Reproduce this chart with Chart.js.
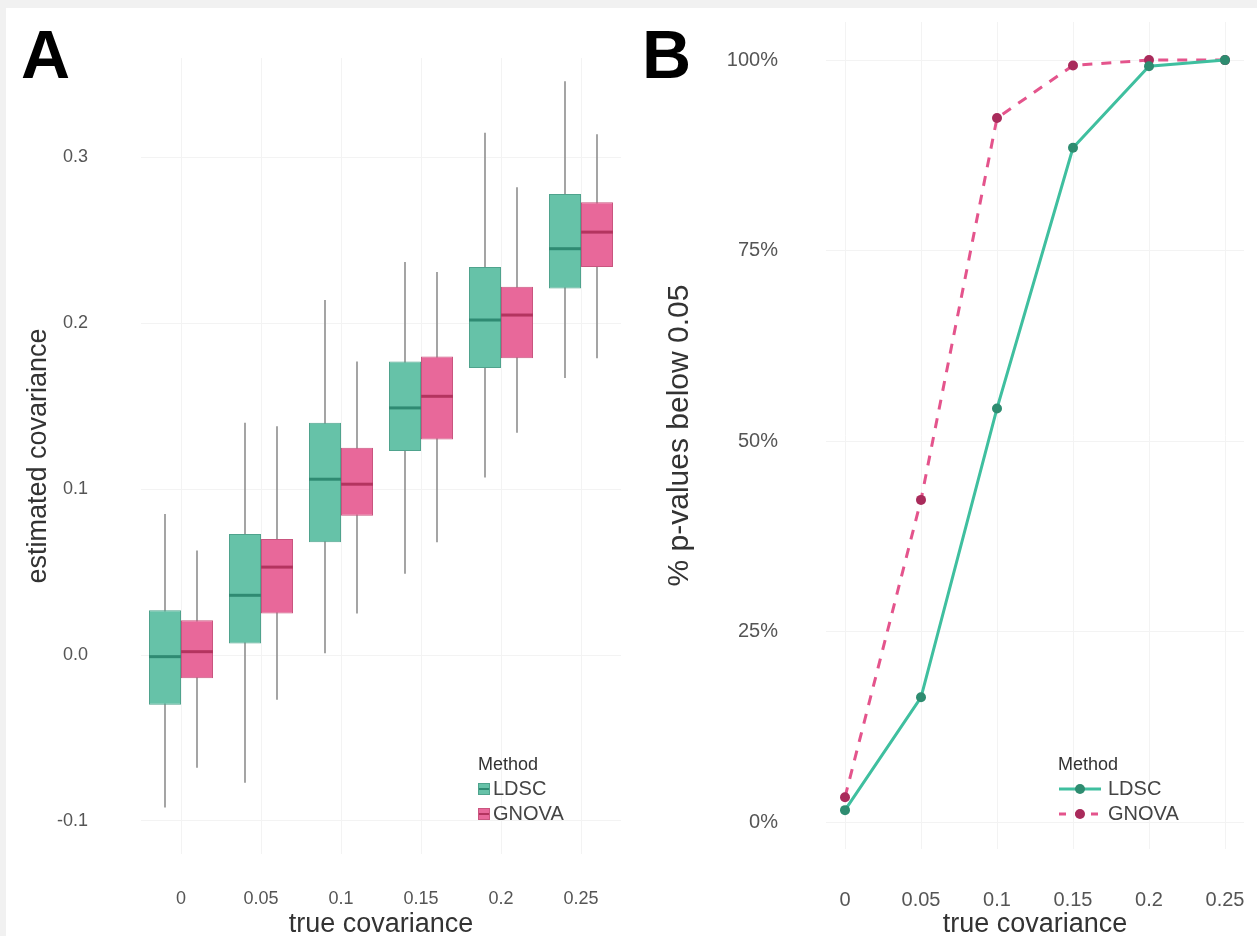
<!DOCTYPE html>
<html>
<head>
<meta charset="utf-8">
<script src="https://cdn.jsdelivr.net/npm/chart.js@4.4.1/dist/chart.umd.min.js"></script>
<style>
  html, body { margin:0; padding:0; width:1257px; height:936px; background:#f1f1f1; overflow:hidden; font-family:"Liberation Sans", Arial, sans-serif; }
  #paper { position:absolute; left:6px; top:8px; width:1251px; height:928px; background:#ffffff; }
  #cA { position:absolute; left:0; top:0; }
  #cB { position:absolute; left:636px; top:0; }
  .panel { position:absolute; font-family:"Liberation Sans", Arial, sans-serif; font-weight:bold; font-size:68px; color:#000; line-height:1; }
  .leg { position:absolute; color:#333; }
  .leg .t { font-size:18px; color:#333; }
  .leg .r { font-size:20px; display:flex; align-items:center; height:27px; color:#444; }
  .sq { display:inline-block; width:12px; height:12px; margin-right:3px; position:relative; }
</style>
</head>
<body>
<div id="paper"></div>
<canvas id="cA" width="636" height="936"></canvas>
<canvas id="cB" width="621" height="936"></canvas>
<div class="panel" style="left:21px; top:20px;">A</div>
<div class="panel" style="left:642px; top:20px;">B</div>

<div class="leg" id="legA" style="left:478px; top:754px;"></div>
<div class="leg" id="legB" style="left:1058px; top:754px;"></div>

<script>
// ---------------- DATA ----------------
const categories = ['0', '0.05', '0.1', '0.15', '0.2', '0.25'];
const methods = ['LDSC', 'GNOVA'];

// Panel A: box plot summaries (estimated covariance)
const ldscMin = [-0.092, -0.077, 0.001, 0.049, 0.107, 0.167];
const ldscQ1  = [-0.030, 0.007, 0.068, 0.123, 0.173, 0.221];
const ldscMed = [-0.001, 0.036, 0.106, 0.149, 0.202, 0.245];
const ldscQ3  = [0.027, 0.073, 0.140, 0.177, 0.234, 0.278];
const ldscMax = [0.085, 0.140, 0.214, 0.237, 0.315, 0.346];

const gnovaMin = [-0.068, -0.027, 0.025, 0.068, 0.134, 0.179];
const gnovaQ1  = [-0.014, 0.025, 0.084, 0.130, 0.179, 0.234];
const gnovaMed = [0.002, 0.053, 0.103, 0.156, 0.205, 0.255];
const gnovaQ3  = [0.021, 0.070, 0.125, 0.180, 0.222, 0.273];
const gnovaMax = [0.063, 0.138, 0.177, 0.231, 0.282, 0.314];

const yTicksA = [-0.1, 0.0, 0.1, 0.2, 0.3];

// Panel B: % of p-values below 0.05
const trueCov = [0, 0.05, 0.1, 0.15, 0.2, 0.25];
const ldscPct  = [1.6, 16.4, 54.3, 88.5, 99.2, 100];
const gnovaPct = [3.3, 42.3, 92.4, 99.3, 100, 100];
const yTicksB = [0, 25, 50, 75, 100];

// ---------------- STYLE ----------------
const teal = '#66c2a8', tealDark = '#2f8a72', tealEdge = '#4fa38d';
const pink = '#e8689a', pinkDark = '#b3345f', pinkEdge = '#c9557f';
const whisker = '#8e8e8e';
const grid = '#f3f3f3';
const FAM = '"Liberation Sans", Arial, sans-serif';
const tickFontA = { family: FAM, size: 18 };
const tickFontB = { family: FAM, size: 20 };
const titleFont = { family: FAM, size: 27 };
const titleFontB = { family: FAM, size: 30 };

// ---------------- PANEL A ----------------
const medianPlugin = {
  id: 'medians',
  afterDatasetsDraw(chart) {
    const y = chart.scales.y;
    const ctx = chart.ctx;
    [[0, ldscMed, tealDark], [1, gnovaMed, pinkDark]].forEach(([di, meds, col]) => {
      const meta = chart.getDatasetMeta(di);
      meta.data.forEach((bar, i) => {
        const py = y.getPixelForValue(meds[i]);
        ctx.save();
        ctx.strokeStyle = col;
        ctx.lineWidth = 3;
        ctx.beginPath();
        ctx.moveTo(bar.x - bar.width / 2, py);
        ctx.lineTo(bar.x + bar.width / 2, py);
        ctx.stroke();
        ctx.restore();
      });
    });
  }
};

const boxCommon = { type: 'bar', categoryPercentage: 0.8, barPercentage: 1.0, borderWidth: 1, borderSkipped: false };
const whiskCommon = { type: 'bar', categoryPercentage: 0.8, barPercentage: 1.0, maxBarThickness: 1.6, backgroundColor: whisker, borderWidth: 0 };

new Chart(document.getElementById('cA'), {
  type: 'bar',
  data: {
    labels: categories,
    datasets: [
      Object.assign({ label: 'LDSC', stack: 'LDSC', data: categories.map((c, i) => [ldscQ1[i], ldscQ3[i]]), backgroundColor: teal, borderColor: tealEdge }, boxCommon),
      Object.assign({ label: 'GNOVA', stack: 'GNOVA', data: categories.map((c, i) => [gnovaQ1[i], gnovaQ3[i]]), backgroundColor: pink, borderColor: pinkEdge }, boxCommon),
      Object.assign({ label: 'LDSC whisker', stack: 'LDSC', data: categories.map((c, i) => [ldscMin[i], ldscMax[i]]) }, whiskCommon),
      Object.assign({ label: 'GNOVA whisker', stack: 'GNOVA', data: categories.map((c, i) => [gnovaMin[i], gnovaMax[i]]) }, whiskCommon)
    ]
  },
  options: {
    responsive: false,
    animation: false,
    layout: { padding: { left: 0, right: 15, top: 58, bottom: 0 } },
    plugins: { legend: { display: false }, tooltip: { enabled: false } },
    scales: {
      x: {
        type: 'category', offset: true,
        grid: { color: grid, drawTicks: false, offset: false },
        border: { display: false },
        ticks: { font: tickFontA, color: '#555', padding: 34 },
        title: { display: true, text: 'true covariance', font: titleFont, color: '#333', padding: { top: 0, bottom: -5 } },
        afterFit(s) { s.height = 82; s.paddingLeft = 0; s.paddingRight = 0; }
      },
      y: {
        type: 'linear', min: -0.12, max: 0.36, stacked: false,
        grid: { color: grid, drawTicks: false },
        border: { display: false },
        afterBuildTicks(s) { s.ticks = yTicksA.map(v => ({ value: v })); },
        ticks: { font: tickFontA, color: '#555', padding: 53, callback: v => Number(v).toFixed(1) },
        title: { display: true, text: 'estimated covariance', font: titleFont, color: '#333', padding: { top: 22, bottom: 0 } },
        afterFit(s) { s.width = 141; s.paddingTop = 0; s.paddingBottom = 0; }
      }
    }
  },
  plugins: [medianPlugin]
});

// ---------------- PANEL B ----------------
new Chart(document.getElementById('cB'), {
  type: 'line',
  data: {
    datasets: [
      { label: 'LDSC', data: trueCov.map((x, i) => ({ x: x, y: ldscPct[i] })), borderColor: '#3fbf9f', borderWidth: 3,
        pointRadius: 5, pointBackgroundColor: '#2e8c70', pointBorderWidth: 0, tension: 0 },
      { label: 'GNOVA', data: trueCov.map((x, i) => ({ x: x, y: gnovaPct[i] })), borderColor: '#e4548c', borderWidth: 3, borderDash: [10, 9],
        pointRadius: 5, pointBackgroundColor: '#a92b5b', pointBorderWidth: 0, tension: 0 }
    ]
  },
  options: {
    responsive: false,
    animation: false,
    layout: { padding: { left: 0, right: 13, top: 22, bottom: 0 } },
    plugins: { legend: { display: false }, tooltip: { enabled: false } },
    scales: {
      x: {
        type: 'linear', min: -0.0125, max: 0.2625,
        grid: { color: grid, drawTicks: false },
        border: { display: false },
        afterBuildTicks(s) { s.ticks = trueCov.map(v => ({ value: v })); },
        ticks: { font: tickFontB, color: '#555', padding: 39, maxRotation: 0, callback: v => String(v) },
        title: { display: true, text: 'true covariance', font: titleFont, color: '#333', padding: { top: 0, bottom: -5 } },
        afterFit(s) { s.height = 87; s.paddingLeft = 0; s.paddingRight = 0; }
      },
      y: {
        type: 'linear', min: -3.5, max: 105,
        grid: { color: grid, drawTicks: false },
        border: { display: false },
        afterBuildTicks(s) { s.ticks = yTicksB.map(v => ({ value: v })); },
        ticks: { font: tickFontB, color: '#555', padding: 48, callback: v => v + '%' },
        title: { display: true, text: '% p-values below 0.05', font: titleFontB, color: '#333', padding: { top: 26, bottom: 0 } },
        afterFit(s) { s.width = 190; s.paddingTop = 0; s.paddingBottom = 0; }
      }
    }
  }
});

// ---------------- LEGENDS (HTML text) ----------------
function keyA(fill, edge, mid) {
  return '<span class="sq" style="background:' + fill + ';border:1px solid ' + edge + ';box-sizing:border-box;">' +
         '<span style="position:absolute;left:0;right:0;top:4px;height:2px;background:' + mid + '"></span></span>';
}
document.getElementById('legA').innerHTML =
  '<div class="t">Method</div>' +
  '<div class="r">' + keyA(teal, tealEdge, tealDark) + methods[0] + '</div>' +
  '<div class="r" style="margin-top:-2px">' + keyA(pink, pinkEdge, pinkDark) + methods[1] + '</div>';

function keyB(line, dot, dash) {
  return '<svg width="44" height="14" style="margin-right:6px"><line x1="1" y1="7" x2="43" y2="7" stroke="' + line +
         '" stroke-width="3"' + (dash ? ' stroke-dasharray="7,9"' : '') + '/><circle cx="22" cy="7" r="5" fill="' + dot + '"/></svg>';
}
document.getElementById('legB').innerHTML =
  '<div class="t">Method</div>' +
  '<div class="r">' + keyB('#3fbf9f', '#2e8c70', false) + methods[0] + '</div>' +
  '<div class="r" style="margin-top:-2px">' + keyB('#e4548c', '#a92b5b', true) + methods[1] + '</div>';
</script>
</body>
</html>
